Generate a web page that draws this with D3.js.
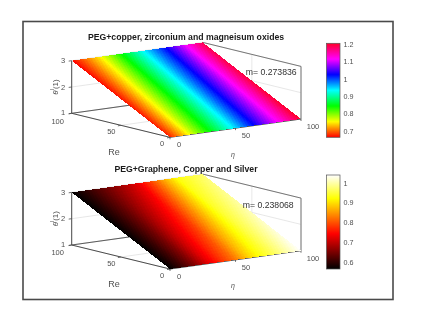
<!DOCTYPE html>
<html><head><meta charset="utf-8">
<script src="https://cdn.jsdelivr.net/npm/d3@7"></script>
<style>
html,body{margin:0;padding:0;background:#fff}
svg{display:block;filter:blur(0.4px)}
text{font-family:"Liberation Sans",Arial,sans-serif}
</style></head><body>
<svg id="c" width="429" height="312"></svg>
<script>
const etaTicks = [0, 50, 100];
const reTicks = [0, 50, 100];
const zTicks = [1, 2, 3];
const etaSamples = [0, 10, 20, 30, 40, 50, 60, 70, 80, 90, 100];
const reEnds = [0, 100];
const surfaceZ = [1, 3];
const topValuesRe0 = [0.673, 0.727, 0.787, 0.842, 0.893, 0.945, 1.002, 1.054, 1.103, 1.152, 1.206];
const topValuesRe100 = [0.662, 0.700, 0.741, 0.795, 0.855, 0.910, 0.964, 1.016, 1.073, 1.133, 1.190];
const bottomValuesRe0 = [0.565, 0.608, 0.660, 0.726, 0.778, 0.826, 0.887, 0.930, 0.963, 1.001, 1.039];
const bottomValuesRe100 = [0.565, 0.593, 0.624, 0.655, 0.688, 0.726, 0.788, 0.859, 0.925, 0.949, 0.973];
const topColorStops = [0.662, 0.753, 0.843, 0.934, 1.025, 1.115, 1.206];
const topColors = ["#ff0000", "#ffff00", "#00ff00", "#00ffff", "#0000ff", "#ff00ff", "#ff0028"];
const bottomColorStops = [0.565, 0.7428, 0.9205, 1.039];
const bottomColors = ["#000000", "#ff0000", "#ffff00", "#ffffff"];
const topTicks = [0.7, 0.8, 0.9, 1, 1.1, 1.2];
const bottomTicks = [0.6, 0.7, 0.8, 0.9, 1];
const topTitle = "PEG+copper, zirconium and magneisum oxides";
const bottomTitle = "PEG+Graphene, Copper and Silver";
const topNote = "m= 0.273836";
const bottomNote = "m= 0.238068";

const svg = d3.select("#c");
const defs = svg.append("defs");
svg.append("rect").attr("x",23).attr("y",21.5).attr("width",370).attr("height",278)
  .attr("fill","#fff").attr("stroke","#4a4a4a").attr("stroke-width",1.6);

function panel(o){
  const dy = o.dy;
  const etaX = d3.scaleLinear([0,100],[0,131]);
  const etaY = d3.scaleLinear([0,100],[0,-18.3]);
  const reX = d3.scaleLinear([0,100],[0,-98.3]);
  const reY = d3.scaleLinear([0,100],[0,-24]);
  const zY = d3.scaleLinear([1,3],[0,-52.6]);
  const P = (eta,re,z)=>[170+etaX(eta)+reX(re), 137.3+dy+etaY(eta)+reY(re)+zY(z)];
  const g = svg.append("g");
  const line = (a,b,c,w)=>g.append("line").attr("x1",a[0]).attr("y1",a[1]).attr("x2",b[0]).attr("y2",b[1])
     .attr("stroke",c).attr("stroke-width",w);
  const grid="#dcdcdc", ax="#4d4d4d";
  etaTicks.forEach(e=>{ line(P(e,0,1),P(e,100,1),grid,.7); line(P(e,100,1),P(e,100,3),grid,.7); });
  reTicks.forEach(r=>{ line(P(0,r,1),P(100,r,1),grid,.7); line(P(100,r,1),P(100,r,3),grid,.7); });
  zTicks.forEach(z=>{ line(P(0,100,z),P(100,100,z),grid,.7); line(P(100,100,z),P(100,0,z),grid,.7); });
  line(P(0,100,1),P(0,100,3),ax,1);
  line(P(0,100,1),P(0,0,1),ax,1);
  line(P(0,0,1),P(100,0,1),ax,1);
  line(P(0,100,1),P(100,100,1),ax,.9);
  line(P(100,0,1),P(100,0,3),"#6a6a6a",.9);
  line(P(100,0,3),P(100,100,3),"#6a6a6a",.9);
  zTicks.forEach(z=>{const p=P(0,100,z); line(p,[p[0]-3,p[1]+.4],ax,.8);});
  reTicks.forEach(r=>{const p=P(0,r,1); line(p,[p[0]-3,p[1]+.6],ax,.8);});
  etaTicks.forEach(e=>{const p=P(e,0,1); line(p,[p[0],p[1]+2],ax,.8);});

  // colour map and surface mesh
  const cmap = d3.scaleLinear(o.stops,o.colors).clamp(true);
  const at0 = d3.scaleLinear(etaSamples,o.values0);
  const at100 = d3.scaleLinear(etaSamples,o.values100);
  const zOfRe = d3.scaleLinear(reEnds,surfaceZ);
  const mesh = g.append("g").attr("shape-rendering","crispEdges");
  const etaStep=1, reStep=4;
  d3.range(0,100,reStep).forEach(re=>{
    d3.range(0,100,etaStep).forEach(eta=>{
      const eM=eta+etaStep/2, rM=re+reStep/2;
      const v=d3.interpolateNumber(at0(eM),at100(eM))(rM/100);
      mesh.append("path")
        .attr("d",d3.line()([P(eta,re,zOfRe(re)),P(eta+etaStep,re,zOfRe(re)),
          P(eta+etaStep,re+reStep,zOfRe(re+reStep)),P(eta,re+reStep,zOfRe(re+reStep))])+"Z")
        .attr("fill",cmap(v));
    });
  });

  const label=(x,y,t,fs,extra)=>{const s=g.append("text").attr("x",x).attr("y",y).attr("text-anchor","middle")
     .attr("dominant-baseline","central").attr("font-size",fs).attr("fill","#505050").text(t); if(extra)extra(s); return s;};
  zTicks.forEach(z=>{const p=P(0,100,z); label(p[0]-8.5,p[1]-(z==1?.5:0),z,7.5);});
  reTicks.forEach(r=>{const p=P(0,r,1); label(p[0]-(r==100?14:r==50?9.5:8),p[1]+(r==100?7.7:6.5),r,7.5);});
  etaTicks.forEach(e=>{const p=P(e,0,1); label(p[0]+(e==0?9:e==50?10.5:12),p[1]+(e==0?7.5:7.8),e,7.5);});
  label(114,152+dy,"Re",9);
  label(233,154+dy,"η",7,s=>s.attr("font-style","italic"));
  const th=g.append("text").attr("transform",`translate(54.5,${87+dy}) rotate(-90)`).attr("text-anchor","middle")
    .attr("dominant-baseline","central").attr("font-size",8).attr("fill","#505050");
  th.append("tspan").attr("font-style","italic").text("θ");
  th.append("tspan").attr("font-size",5.5).attr("dy",-2.5).text("l");
  th.append("tspan").attr("dy",2.5).text("(1)");

  g.append("text").attr("x",186).attr("y",o.titleY).attr("text-anchor","middle").attr("dominant-baseline","central")
    .attr("font-size",8.7).attr("font-weight","bold").attr("fill","#1a1a1a").text(o.title);
  g.append("text").attr("x",o.noteX).attr("y",o.noteY).attr("dominant-baseline","central")
    .attr("font-size",8.7).attr("fill","#333").text(o.note);

  const [dLo,dHi]=[o.stops[0],o.stops[o.stops.length-1]];
  const cy=d3.scaleLinear([dLo,dHi],[o.barBottom,o.barTop]);
  const bid="bar"+o.id;
  const bg=defs.append("linearGradient").attr("id",bid).attr("x1",0).attr("y1",1).attr("x2",0).attr("y2",0);
  d3.range(0,1.001,0.01).forEach(t=>bg.append("stop").attr("offset",t).attr("stop-color",cmap(dLo+t*(dHi-dLo))));
  g.append("rect").attr("x",326.5).attr("y",o.barTop).attr("width",13.5).attr("height",o.barBottom-o.barTop)
    .attr("fill",`url(#${bid})`).attr("stroke","#555").attr("stroke-width",.7);
  const axis=d3.axisRight(cy).tickValues(o.ticks).tickSize(0).tickPadding(3.5).tickFormat(d3.format("~g"));
  const ag=g.append("g").attr("transform","translate(340,0)").call(axis);
  ag.select(".domain").remove();
  ag.selectAll("text").attr("font-size",7.2).attr("fill","#505050").attr("font-family","Liberation Sans");
}

panel({id:"a",dy:0,values0:topValuesRe0,values100:topValuesRe100,stops:topColorStops,colors:topColors,ticks:topTicks,
  title:topTitle,titleY:37,note:topNote,noteX:245.7,noteY:72,barTop:43.3,barBottom:137.3});
panel({id:"b",dy:131.7,values0:bottomValuesRe0,values100:bottomValuesRe100,stops:bottomColorStops,colors:bottomColors,ticks:bottomTicks,
  title:bottomTitle,titleY:168.5,note:bottomNote,noteX:242.7,noteY:205,barTop:175,barBottom:269});
</script>
</body></html>
